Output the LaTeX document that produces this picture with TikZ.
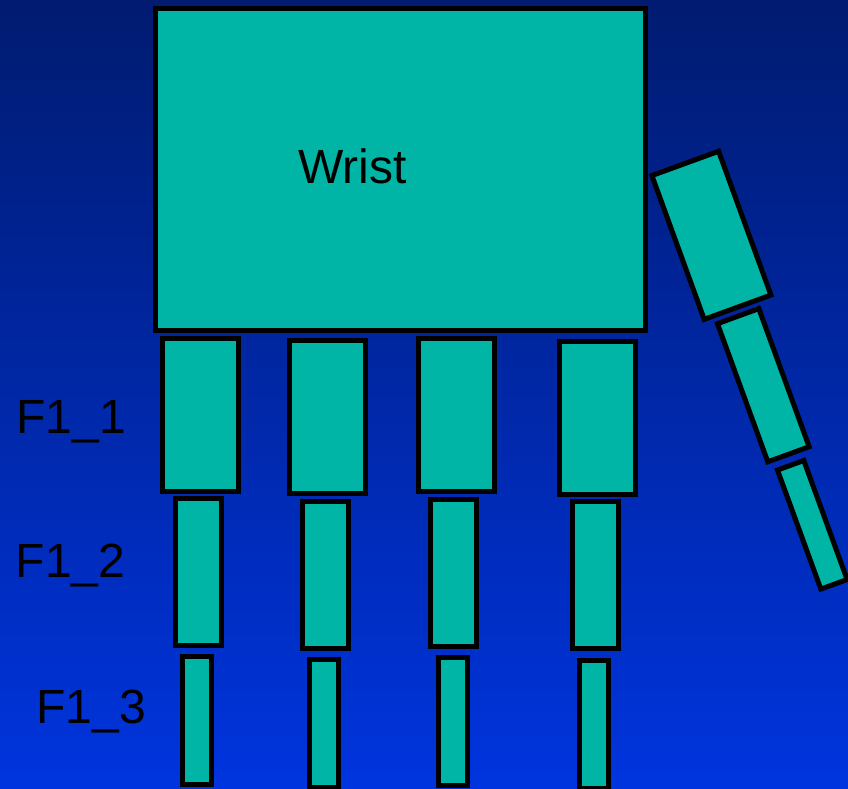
\documentclass[tikz,border=0pt]{standalone}
\usepackage{fontspec}
\setmainfont{Liberation Sans}
\usepackage{xcolor}
\usepackage{tikz}
\usetikzlibrary{positioning}
\definecolor{handteal}{HTML}{00B5A5}
\definecolor{bgtop}{HTML}{001B70}
\definecolor{bgbottom}{HTML}{0034DE}

\begin{document}
\begin{tikzpicture}[x=0.75pt, y=-0.75pt,
  every node/.style={font=\fontsize{36}{40}\selectfont},
  bone/.style={draw=black, line width=3.75pt, fill=handteal, inner sep=0pt, rectangle},
  phal1/.style={bone, minimum width=57pt, minimum height=114.75pt},
  phal2/.style={bone, minimum width=34.5pt, minimum height=110.25pt},
  phal3/.style={bone, minimum width=21.75pt, minimum height=96pt},
  lbl/.style={anchor=base, inner sep=0pt}]
  \useasboundingbox (0,0) rectangle (848,788);
  \shade[top color=bgtop, bottom color=bgbottom] (0,0) rectangle (848,788);

  % palm
  \node[bone, minimum width=367.5pt, minimum height=240.75pt] (wrist) at (400,169.5) {};
  \node[lbl] (wristlbl) at (352.5,183) {Wrist};

  % fingers
  \node[phal1] (f1a) at (200.5,415) {};
  \node[phal2] (f1b) at (198,572) {};
  \node[phal3] (f1c) at (197,720.5) {};
  \node[phal1] (f2a) at (327,417) {};
  \node[phal2] (f2b) at (325,574.75) {};
  \node[phal3] (f2c) at (323.5,723) {};
  \node[phal1] (f3a) at (456.5,415) {};
  \node[phal2] (f3b) at (453.75,572.5) {};
  \node[phal3] (f3c) at (452.5,721) {};
  \node[phal1] (f4a) at (597.5,418) {};
  \node[phal2] (f4b) at (595,575.25) {};
  \node[phal3] (f4c) at (593.75,724) {};

  % thumb
  \node[bone, rotate=20, minimum width=53.25pt, minimum height=114.75pt] (t1) at (711.4,235.3) {};
  \node[bone, rotate=20, minimum width=33pt, minimum height=110.25pt] (t2) at (763.3,385.2) {};
  \node[bone, rotate=20, minimum width=21pt, minimum height=95pt] (t3) at (812.3,524.8) {};

  \node[lbl] (l1) at (71,433) {F1\_1};
  \node[lbl] (l2) at (70.5,577) {F1\_2};
  \node[lbl] (l3) at (91,723) {F1\_3};
\end{tikzpicture}
\end{document}
